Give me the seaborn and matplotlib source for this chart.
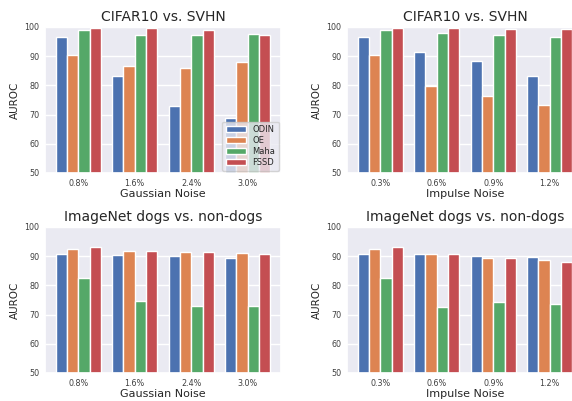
import numpy as np
import pandas as pd
import matplotlib
matplotlib.use("Agg")
import matplotlib.pyplot as plt
import seaborn as sns

methods = ["ODIN", "OE", "Maha", "FSSD"]
gauss_levels = ["0.8%", "1.6%", "2.4%", "3.0%"]
impulse_levels = ["0.3%", "0.6%", "0.9%", "1.2%"]

# CIFAR10 vs SVHN, Gaussian noise
cifar_gauss_odin = [96.6, 83.1, 73.1, 68.7]
cifar_gauss_oe = [90.4, 86.6, 86.1, 88.1]
cifar_gauss_maha = [99.0, 97.3, 97.4, 97.7]
cifar_gauss_fssd = [99.8, 99.7, 98.9, 97.2]

# CIFAR10 vs SVHN, Impulse noise
cifar_imp_odin = [96.6, 91.3, 88.2, 83.1]
cifar_imp_oe = [90.3, 79.9, 76.4, 73.4]
cifar_imp_maha = [99.0, 98.1, 97.3, 96.7]
cifar_imp_fssd = [99.8, 99.7, 99.4, 99.3]

# ImageNet dogs vs non-dogs, Gaussian noise
dogs_gauss_odin = [90.7, 90.4, 89.9, 89.5]
dogs_gauss_oe = [92.4, 91.9, 91.5, 91.0]
dogs_gauss_maha = [82.7, 74.7, 73.0, 73.0]
dogs_gauss_fssd = [93.0, 91.9, 91.3, 90.8]

# ImageNet dogs vs non-dogs, Impulse noise
dogs_imp_odin = [90.8, 90.6, 90.0, 89.8]
dogs_imp_oe = [92.4, 90.6, 89.5, 88.6]
dogs_imp_maha = [82.7, 72.7, 74.3, 73.5]
dogs_imp_fssd = [93.0, 90.7, 89.3, 88.0]


def make_df(levels, series):
    rows = []
    for m, vals in zip(methods, series):
        for lv, v in zip(levels, vals):
            rows.append({"level": lv, "method": m, "auroc": v})
    return pd.DataFrame(rows)


sns.set_theme(style="darkgrid")
palette = sns.color_palette("deep")[:4]

fig = plt.figure(figsize=(5.72, 4.01), dpi=100)
W, H = 572, 401

def ax_at(left, top, right, bottom):
    return fig.add_axes([left / W, (H - bottom) / H, (right - left) / W, (bottom - top) / H])

ax_tl = ax_at(45, 27, 281, 173)
ax_tr = ax_at(347, 27, 583, 173)
ax_bl = ax_at(45, 227, 281, 373)
ax_br = ax_at(347, 227, 583, 373)

panels = [
    (ax_tl, gauss_levels, [cifar_gauss_odin, cifar_gauss_oe, cifar_gauss_maha, cifar_gauss_fssd],
     "CIFAR10 vs. SVHN", "Gaussian Noise", True),
    (ax_tr, impulse_levels, [cifar_imp_odin, cifar_imp_oe, cifar_imp_maha, cifar_imp_fssd],
     "CIFAR10 vs. SVHN", "Impulse Noise", False),
    (ax_bl, gauss_levels, [dogs_gauss_odin, dogs_gauss_oe, dogs_gauss_maha, dogs_gauss_fssd],
     "ImageNet dogs vs. non-dogs", "Gaussian Noise", False),
    (ax_br, impulse_levels, [dogs_imp_odin, dogs_imp_oe, dogs_imp_maha, dogs_imp_fssd],
     "ImageNet dogs vs. non-dogs", "Impulse Noise", False),
]

for ax, levels, series, title, xlabel, legend in panels:
    df = make_df(levels, series)
    sns.barplot(data=df, x="level", y="auroc", hue="method", hue_order=methods,
                palette=palette, ax=ax, width=0.8, saturation=1,
                edgecolor="white", linewidth=1.0, legend=legend)
    ax.set_ylim(50, 100)
    ax.set_xlim(-0.59, 3.59)
    ax.set_yticks([50, 60, 70, 80, 90, 100])
    ax.set_title(title, fontsize=10, pad=4, color="#262626")
    ax.set_xlabel(xlabel, fontsize=8, labelpad=1, color="#262626")
    ax.set_ylabel("AUROC", fontsize=7.5, labelpad=3, color="#262626")
    ax.tick_params(axis="both", labelsize=5.8, colors="#404040", length=0)
    ax.tick_params(axis="x", pad=4)
    ax.tick_params(axis="y", pad=4)
    if legend:
        ax.legend(loc="lower right", fontsize=6, handlelength=2.4, handleheight=0.7,
                  labelspacing=0.25, borderpad=0.4, handletextpad=0.8, framealpha=0.8,
                  borderaxespad=0.3, title=None)

fig.savefig("out.png", dpi=100)
